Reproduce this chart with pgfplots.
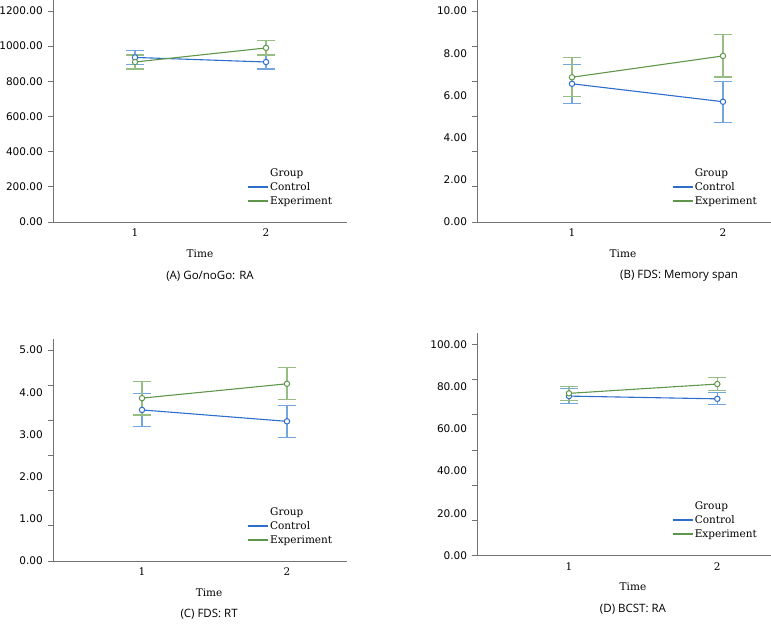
\documentclass[border=0pt]{standalone}
\usepackage{pgfplots}
\pgfplotsset{compat=1.18}
\usepackage{fontspec}
\setmainfont{DejaVu Serif}
\setsansfont{DejaVu Sans}
\newfontfamily\capfont{Open Sans}

\definecolor{ctrl}{RGB}{45,110,205}
\definecolor{ctrlerr}{RGB}{115,165,222}
\definecolor{expt}{RGB}{95,150,75}
\definecolor{expterr}{RGB}{150,190,130}
\definecolor{axgray}{RGB}{115,115,115}

% legend block: #1 = anchor point (top-left of legend)
\newcommand{\grouplegend}[1]{%
  \coordinate (L) at (#1);
  \node[anchor=base west, inner sep=0pt, font=\fontsize{10.5}{12}\selectfont] at ([xshift=22pt,yshift=-8pt]L) {Group};
  \node[anchor=base west, inner sep=0pt, font=\fontsize{10.5}{12}\selectfont] at ([xshift=22pt,yshift=-22pt]L) {Control};
  \node[anchor=base west, inner sep=0pt, font=\fontsize{10.5}{12}\selectfont] at ([xshift=22pt,yshift=-36pt]L) {Experiment};
  \draw[draw=ctrl, line width=1.1pt] ([yshift=-18.5pt]L) -- ++(20pt,0pt);
  \draw[draw=expt, line width=1.1pt] ([yshift=-32.5pt]L) -- ++(20pt,0pt);
}

\pgfplotsset{
  panel/.style={
    scale only axis,
    anchor=south west,
    axis x line*=bottom, axis y line*=left,
    axis line style={draw=axgray, line width=0.8pt},
    xtick={1,2},
    xticklabel={\pgfmathprintnumber[assume math mode=true, fixed, precision=0]{\tick}},
    yticklabel={\pgfmathprintnumber[assume math mode=true, fixed, fixed zerofill, precision=2, 1000 sep={}]{\tick}},
    x tick style={draw=none},
    major tick length=0pt,
    minor tick length=5pt,
    tick align=outside,
    minor tick style={draw=axgray, line width=0.8pt},
    ymin=0,
    font=\fontsize{10.5}{12}\selectfont,
    tick label style={inner sep=0pt},
    xticklabel style={anchor=center, yshift=-10.5pt, font=\rmfamily\fontsize{10.5}{12}\selectfont},
    yticklabel style={anchor=east, xshift=-10pt, font=\sffamily\fontsize{10.5}{12}\selectfont},
    clip=false,
    xlabel={Time},
  },
  ctrlplot/.style={color=ctrl, line width=1.1pt, mark=*, mark size=2.7pt,
    mark options={fill=white, draw=ctrl, line width=1pt},
    error bars/.cd, y dir=both, y explicit,
    error bar style={color=ctrlerr, line width=1.1pt},
    error mark options={rotate=90, color=ctrlerr, mark size=9pt, line width=1.1pt}},
  exptplot/.style={color=expt, line width=1.1pt, mark=*, mark size=2.7pt,
    mark options={fill=white, draw=expt, line width=1pt},
    error bars/.cd, y dir=both, y explicit,
    error bar style={color=expterr, line width=1.1pt},
    error mark options={rotate=90, color=expterr, mark size=9pt, line width=1.1pt}},
}

\begin{document}
\begin{tikzpicture}
% ---------- (A)
\begin{axis}[panel,
  at={(53pt,-222pt)}, width=294pt, height=222pt,
  xmin=0.374, xmax=2.618, ymax=1262.6,
  ytick={0,200,400,600,800,1000,1200},
  minor ytick={0,200,400,600,800,1000,1200},
  xlabel style={at={(axis description cs:0.5,0)}, anchor=center, yshift=-32pt},
  title={(A) Go/noGo: RA},
  title style={at={(axis description cs:0.534,0)}, anchor=center, yshift=-60pt, font=\capfont\fontsize{11.5}{13}\selectfont},
]
\addplot[ctrlplot] coordinates {(1,936) +- (0,40) (2,910) +- (0,40)};
\addplot[exptplot] coordinates {(1,910) +- (0,40) (2,990) +- (0,40)};
\grouplegend{axis description cs:0.663,0.241}
\end{axis}
% ---------- (B)
\begin{axis}[panel,
  at={(477.3pt,-222pt)}, width=293.7pt, height=222pt,
  xmin=0.373, xmax=2.318, ymax=10.52,
  ytick={0,2,4,6,8,10},
  minor ytick={0,1.6667,3.3333,5,6.6667,8.3333,10},
  xlabel style={at={(axis description cs:0.496,0)}, anchor=center, yshift=-32pt},
  title={(B) FDS: Memory span},
  title style={at={(axis description cs:0.687,0)}, anchor=center, yshift=-60pt, font=\capfont\fontsize{11.5}{13}\selectfont},
]
\addplot[ctrlplot] coordinates {(1,6.55) +- (0,0.92) (2,5.70) +- (0,0.97)};
\addplot[exptplot] coordinates {(1,6.86) +- (0,0.93) (2,7.87) +- (0,1.0)};
\grouplegend{axis description cs:0.665,0.241}
\end{axis}
% ---------- (C)
\begin{axis}[panel,
  at={(53pt,-561pt)}, width=294pt, height=221.7pt,
  xmin=0.386, xmax=2.414, ymax=5.254,
  ytick={0,1,2,3,4,5},
  minor ytick={0,0.8333,1.6667,2.5,3.3333,4.1667,5},
  xlabel style={at={(axis description cs:0.531,0)}, anchor=center, yshift=-31.7pt},
  title={(C) FDS: RT},
  title style={at={(axis description cs:0.531,0)}, anchor=center, yshift=-59.7pt, font=\capfont\fontsize{11.5}{13}\selectfont},
]
\addplot[ctrlplot] coordinates {(1,3.58) +- (0,0.39) (2,3.31) +- (0,0.375)};
\addplot[exptplot] coordinates {(1,3.86) +- (0,0.40) (2,4.20) +- (0,0.38)};
\grouplegend{axis description cs:0.663,0.2413}
\end{axis}
% ---------- (D)
\begin{axis}[panel,
  at={(477.3pt,-555.7pt)}, width=293.7pt, height=222.4pt,
  xmin=0.382, xmax=2.362, ymax=105.2,
  ytick={0,20,40,60,80,100},
  minor ytick={0,16.6667,33.3333,50,66.6667,83.3333,100},
  xlabel style={at={(axis description cs:0.530,0)}, anchor=center, yshift=-31pt},
  title={(D) BCST: RA},
  title style={at={(axis description cs:0.530,0)}, anchor=center, yshift=-59.3pt, font=\capfont\fontsize{11.5}{13}\selectfont},
]
\addplot[ctrlplot] coordinates {(1,75.5) +- (0,3.4) (2,74.2) +- (0,2.8)};
\addplot[exptplot] coordinates {(1,76.8) +- (0,3.3) (2,81.2) +- (0,2.9)};
\grouplegend{axis description cs:0.665,0.2437}
\end{axis}
\pgfresetboundingbox
\path[use as bounding box] (0pt,0pt) rectangle (771pt,-627pt);
\end{tikzpicture}
\end{document}
